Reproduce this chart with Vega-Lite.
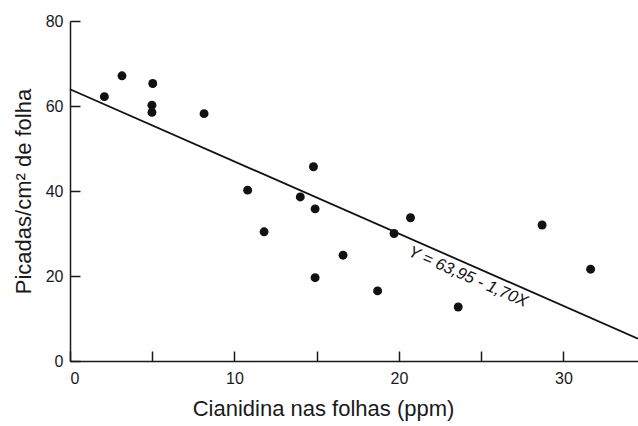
{
  "$schema": "https://vega.github.io/schema/vega-lite/v6.json",
  "autosize": "none",
  "width": 568,
  "height": 340,
  "padding": {"left": 70, "top": 21, "right": 0, "bottom": 65},
  "background": "white",
  "config": {
    "view": {"stroke": null},
    "font": "Liberation Sans",
    "axis": {"grid": false, "domainColor": "#1a1a1a", "tickColor": "#1a1a1a", "labelColor": "#1a1a1a", "titleColor": "#1a1a1a", "domainWidth": 1.5, "tickWidth": 1.5, "labelFont": "Liberation Sans", "titleFont": "Liberation Sans", "titleFontWeight": "normal", "labelFontSize": 16, "titleFontSize": 22}
  },
  "datasets": {
    "pts": [
      {"x": 2.09, "y": 62.2}, {"x": 3.16, "y": 67.1}, {"x": 5.03, "y": 65.3},
      {"x": 4.98, "y": 60.2}, {"x": 4.98, "y": 58.5}, {"x": 8.15, "y": 58.2},
      {"x": 10.8, "y": 40.2}, {"x": 14.0, "y": 38.6}, {"x": 14.8, "y": 45.7},
      {"x": 14.9, "y": 35.8}, {"x": 11.8, "y": 30.4}, {"x": 14.9, "y": 19.6},
      {"x": 16.6, "y": 24.9}, {"x": 18.7, "y": 16.5}, {"x": 19.7, "y": 30.0},
      {"x": 20.7, "y": 33.7}, {"x": 23.6, "y": 12.7}, {"x": 28.7, "y": 32.0},
      {"x": 31.65, "y": 21.6}
    ],
    "fit": [{"x": 0, "y": 63.95}, {"x": 34.53, "y": 5.25}],
    "lab": [{"x": 24.2, "y": 19.8, "t": "Y = 63,95 - 1,70X"}]
  },
  "layer": [
    {
      "data": {"name": "fit"},
      "mark": {"type": "line", "color": "#111", "strokeWidth": 1.8},
      "encoding": {
        "x": {"field": "x", "type": "quantitative", "scale": {"domain": [0, 34.53], "nice": false},
          "axis": {"values": [0, 5, 10, 15, 20, 25, 30], "labelExpr": "datum.value % 10 === 0 ? datum.label : ''", "tickSize": -10, "labelPadding": 19, "title": "Cianidina nas folhas (ppm)", "titlePadding": 12, "titleX": 253}},
        "y": {"field": "y", "type": "quantitative", "scale": {"domain": [0, 80], "nice": false},
          "axis": {"values": [0, 20, 40, 60, 80], "tickSize": -10, "labelPadding": 17, "title": "Picadas/cm² de folha", "titlePadding": 10}}
      }
    },
    {
      "data": {"name": "pts"},
      "mark": {"type": "circle", "size": 80, "color": "#111", "opacity": 1},
      "encoding": {
        "x": {"field": "x", "type": "quantitative"},
        "y": {"field": "y", "type": "quantitative"}
      }
    },
    {
      "data": {"name": "lab"},
      "mark": {"type": "text", "angle": 23.7, "fontStyle": "italic", "fontSize": 16.5, "color": "#111", "align": "center", "baseline": "middle"},
      "encoding": {
        "x": {"field": "x", "type": "quantitative"},
        "y": {"field": "y", "type": "quantitative"},
        "text": {"field": "t"}
      }
    }
  ]
}
